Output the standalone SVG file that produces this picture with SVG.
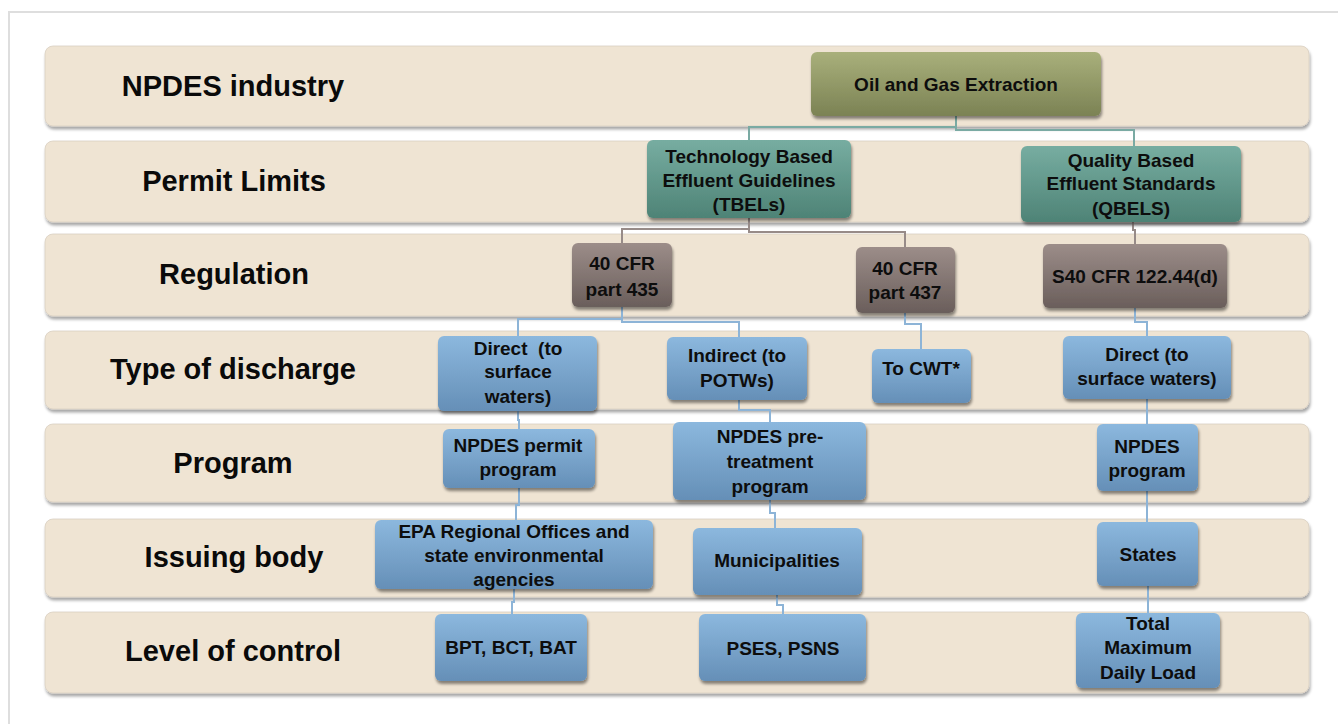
<svg xmlns="http://www.w3.org/2000/svg" width="1338" height="724" viewBox="0 0 1338 724">
  <defs>
    <style>
      .band { fill: #efe4d3; stroke: #d9cfc1; stroke-width: 0.8; filter: url(#bandShadow); }
      .rowlabel { font-family: "Liberation Sans", Arial, sans-serif; font-weight: bold; font-size: 29px; fill: #0a0a0a; text-anchor: middle; }
      .node rect { filter: url(#nodeShadow); }
      .node text { font-family: "Liberation Sans", Arial, sans-serif; font-weight: bold; font-size: 19px; fill: #0d0d0d; text-anchor: middle; white-space: pre; }
      .olive { fill: url(#gOlive); }
      .teal { fill: url(#gTeal); }
      .mauve { fill: url(#gMauve); }
      .blue { fill: url(#gBlue); }
      .conn path { fill: none; stroke-width: 2; }
      .c-teal { stroke: #7aaaa3; }
      .c-gray { stroke: #978b88; }
      .c-blue { stroke: #8db4d7; }
    </style>
    <linearGradient id="gOlive" x1="0" y1="0" x2="0" y2="1">
      <stop offset="0" stop-color="#a9b07b"/>
      <stop offset="1" stop-color="#7b8254"/>
    </linearGradient>
    <linearGradient id="gTeal" x1="0" y1="0" x2="0" y2="1">
      <stop offset="0" stop-color="#77ada1"/>
      <stop offset="1" stop-color="#4e8376"/>
    </linearGradient>
    <linearGradient id="gMauve" x1="0" y1="0" x2="0" y2="1">
      <stop offset="0" stop-color="#9c8d89"/>
      <stop offset="1" stop-color="#6a5e5b"/>
    </linearGradient>
    <linearGradient id="gBlue" x1="0" y1="0" x2="0" y2="1">
      <stop offset="0" stop-color="#8cb8de"/>
      <stop offset="1" stop-color="#658fb7"/>
    </linearGradient>
    <filter id="bandShadow" x="-5%" y="-20%" width="110%" height="150%">
      <feGaussianBlur in="SourceAlpha" stdDeviation="1.6"/>
      <feOffset dx="0.5" dy="2.5" result="b"/>
      <feComponentTransfer><feFuncA type="linear" slope="0.35"/></feComponentTransfer>
      <feMerge><feMergeNode/><feMergeNode in="SourceGraphic"/></feMerge>
    </filter>
    <filter id="nodeShadow" x="-10%" y="-20%" width="120%" height="150%">
      <feGaussianBlur in="SourceAlpha" stdDeviation="1.8"/>
      <feOffset dx="0.5" dy="2.5" result="b"/>
      <feComponentTransfer><feFuncA type="linear" slope="0.45"/></feComponentTransfer>
      <feMerge><feMergeNode/><feMergeNode in="SourceGraphic"/></feMerge>
    </filter>
  </defs>

  <rect width="1338" height="724" fill="#ffffff"/>
  <!-- page frame -->
  <rect x="9" y="12" width="1340" height="720" fill="none" stroke="#dedede" stroke-width="2"/>

  <!-- row bands with their labels -->
  <g id="row-industry">
    <rect class="band" x="45" y="46" width="1264" height="80" rx="8"/>
    <text class="rowlabel" x="233" y="96">NPDES industry</text>
  </g>
  <g id="row-permit-limits">
    <rect class="band" x="45" y="141" width="1264" height="81" rx="8"/>
    <text class="rowlabel" x="234" y="191">Permit Limits</text>
  </g>
  <g id="row-regulation">
    <rect class="band" x="45" y="234" width="1264" height="82" rx="8"/>
    <text class="rowlabel" x="234" y="284">Regulation</text>
  </g>
  <g id="row-discharge">
    <rect class="band" x="45" y="331" width="1264" height="78" rx="8"/>
    <text class="rowlabel" x="233" y="379">Type of discharge</text>
  </g>
  <g id="row-program">
    <rect class="band" x="45" y="424" width="1264" height="78" rx="8"/>
    <text class="rowlabel" x="233" y="473">Program</text>
  </g>
  <g id="row-issuing">
    <rect class="band" x="45" y="519" width="1264" height="78" rx="8"/>
    <text class="rowlabel" x="234" y="567">Issuing body</text>
  </g>
  <g id="row-control">
    <rect class="band" x="45" y="612" width="1264" height="81" rx="8"/>
    <text class="rowlabel" x="233" y="661">Level of control</text>
  </g>

  <!-- connectors -->
  <g id="connectors" class="conn">
    <path class="c-teal" d="M956,116 V127 H749 V141"/>
    <path class="c-teal" d="M956,127 V130 H1134 V146"/>
    <path class="c-gray" d="M749,218 V229 H622 V243"/>
    <path class="c-gray" d="M749,229 V232 H905 V247"/>
    <path class="c-gray" d="M1133,222 V230 H1135 V244"/>
    <path class="c-blue" d="M622,307 V319 H518 V336"/>
    <path class="c-blue" d="M622,319 V322 H739 V337"/>
    <path class="c-blue" d="M905,313 V324 H921 V349"/>
    <path class="c-blue" d="M1135,308 V322 H1147 V336"/>
    <path class="c-blue" d="M518,411 V420 H519 V429"/>
    <path class="c-blue" d="M739,400 V410 H770 V422"/>
    <path class="c-blue" d="M1147,399 V424"/>
    <path class="c-blue" d="M519,488 V505 H516 V520"/>
    <path class="c-blue" d="M770,500 V513 H775 V528"/>
    <path class="c-blue" d="M1147,491 V522"/>
    <path class="c-blue" d="M514,589 V602 H512 V614"/>
    <path class="c-blue" d="M777,595 V605 H783 V614"/>
    <path class="c-blue" d="M1148,586 V613"/>
  </g>

  <!-- industry -->
  <g id="oil-gas" class="node">
    <rect class="olive" x="811" y="52" width="290" height="64" rx="6"/>
    <text x="956" y="91">Oil and Gas Extraction</text>
  </g>

  <!-- permit limits -->
  <g id="tbels" class="node">
    <rect class="teal" x="647" y="140" width="204" height="78" rx="6"/>
    <text x="749" y="163">Technology Based</text>
    <text x="749" y="187">Effluent Guidelines</text>
    <text x="749" y="211">(TBELs)</text>
  </g>
  <g id="qbels" class="node">
    <rect class="teal" x="1021" y="146" width="220" height="76" rx="6"/>
    <text x="1131" y="167">Quality Based</text>
    <text x="1131" y="190">Effluent Standards</text>
    <text x="1131" y="215">(QBELS)</text>
  </g>

  <!-- regulation -->
  <g id="cfr-435" class="node">
    <rect class="mauve" x="572" y="243" width="100" height="64" rx="6"/>
    <text x="622" y="270">40 CFR</text>
    <text x="622" y="296">part 435</text>
  </g>
  <g id="cfr-437" class="node">
    <rect class="mauve" x="856" y="247" width="99" height="66" rx="6"/>
    <text x="905" y="275">40 CFR</text>
    <text x="905" y="299">part 437</text>
  </g>
  <g id="cfr-122" class="node">
    <rect class="mauve" x="1043" y="244" width="184" height="64" rx="6"/>
    <text x="1135" y="283">S40 CFR 122.44(d)</text>
  </g>

  <!-- type of discharge -->
  <g id="direct-tbel" class="node">
    <rect class="blue" x="438" y="336" width="159" height="75" rx="6"/>
    <text x="518" y="355" xml:space="preserve">Direct  (to</text>
    <text x="518" y="378">surface</text>
    <text x="518" y="403">waters)</text>
  </g>
  <g id="indirect" class="node">
    <rect class="blue" x="667" y="337" width="140" height="63" rx="6"/>
    <text x="737" y="362">Indirect (to</text>
    <text x="737" y="387">POTWs)</text>
  </g>
  <g id="to-cwt" class="node">
    <rect class="blue" x="872" y="349" width="99" height="54" rx="6"/>
    <text x="921" y="375">To CWT*</text>
  </g>
  <g id="direct-qbel" class="node">
    <rect class="blue" x="1063" y="336" width="168" height="63" rx="6"/>
    <text x="1147" y="361">Direct (to</text>
    <text x="1147" y="385">surface waters)</text>
  </g>

  <!-- program -->
  <g id="npdes-permit" class="node">
    <rect class="blue" x="443" y="429" width="152" height="59" rx="6"/>
    <text x="518" y="452">NPDES permit</text>
    <text x="518" y="476">program</text>
  </g>
  <g id="npdes-pretreatment" class="node">
    <rect class="blue" x="673" y="422" width="193" height="78" rx="6"/>
    <text x="770" y="443">NPDES pre-</text>
    <text x="770" y="468">treatment</text>
    <text x="770" y="493">program</text>
  </g>
  <g id="npdes-program" class="node">
    <rect class="blue" x="1097" y="424" width="101" height="67" rx="6"/>
    <text x="1147" y="453">NPDES</text>
    <text x="1147" y="477">program</text>
  </g>

  <!-- issuing body -->
  <g id="epa-offices" class="node">
    <rect class="blue" x="375" y="520" width="278" height="69" rx="6"/>
    <text x="514" y="538">EPA Regional Offices and</text>
    <text x="514" y="562">state environmental</text>
    <text x="514" y="586">agencies</text>
  </g>
  <g id="municipalities" class="node">
    <rect class="blue" x="693" y="528" width="169" height="67" rx="6"/>
    <text x="777" y="567">Municipalities</text>
  </g>
  <g id="states" class="node">
    <rect class="blue" x="1097" y="522" width="101" height="64" rx="6"/>
    <text x="1148" y="561">States</text>
  </g>

  <!-- level of control -->
  <g id="bpt-bct-bat" class="node">
    <rect class="blue" x="435" y="614" width="152" height="67" rx="6"/>
    <text x="511" y="654">BPT, BCT, BAT</text>
  </g>
  <g id="pses-psns" class="node">
    <rect class="blue" x="699" y="614" width="167" height="67" rx="6"/>
    <text x="783" y="655">PSES, PSNS</text>
  </g>
  <g id="tmdl" class="node">
    <rect class="blue" x="1076" y="613" width="144" height="75" rx="6"/>
    <text x="1148" y="630">Total</text>
    <text x="1148" y="654">Maximum</text>
    <text x="1148" y="679">Daily Load</text>
  </g>
</svg>
